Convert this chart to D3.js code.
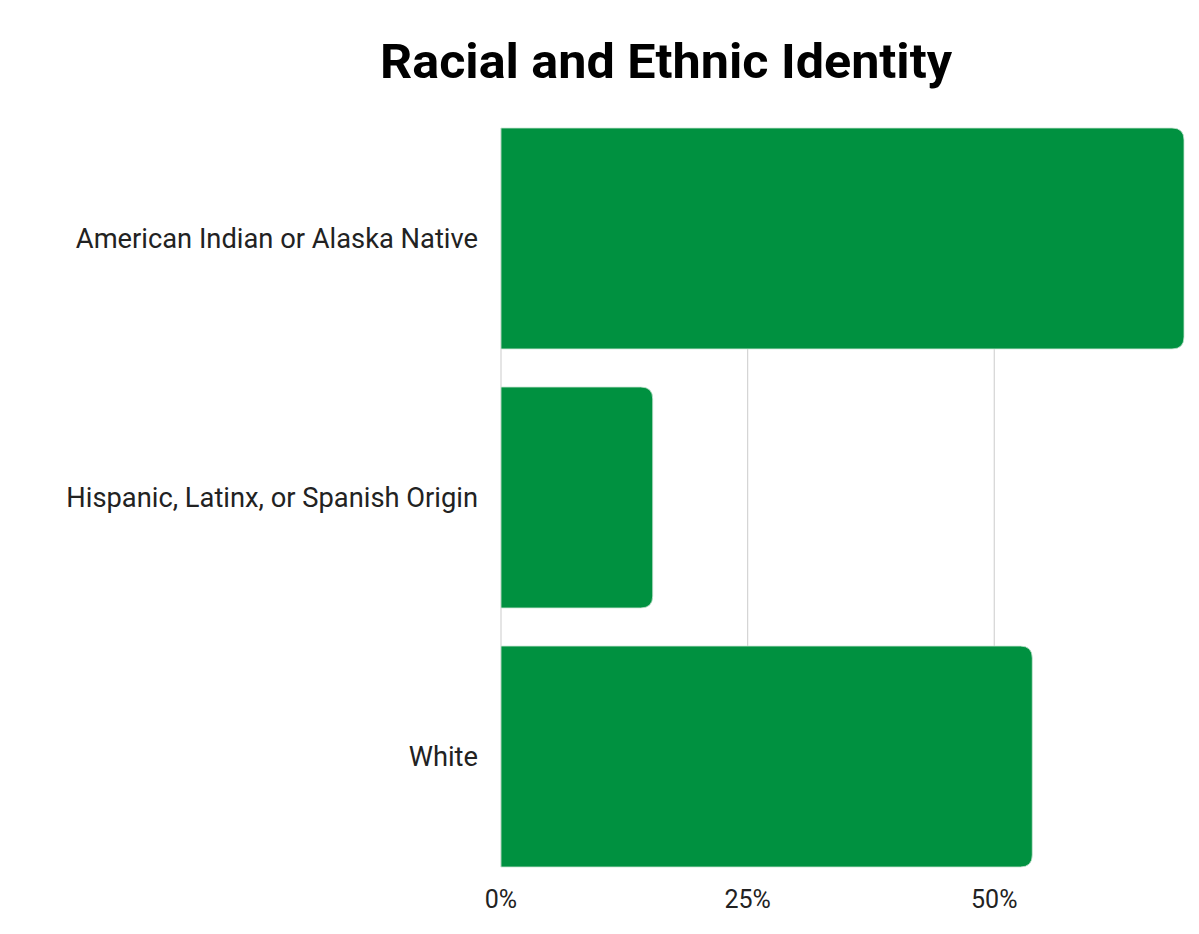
<!DOCTYPE html>
<html><head><meta charset="utf-8">
<script src="https://cdn.jsdelivr.net/npm/d3@7"></script>
<style>
html,body{margin:0;padding:0;background:#fff;}
svg{display:block;}
</style></head>
<body>
<svg id="chart" width="1199" height="934"></svg>
<script>
const categories = ["American Indian or Alaska Native", "Hispanic, Latinx, or Spanish Origin", "White"];
const values = [69.23, 15.38, 53.85];
const tickValues = [0, 25, 50];
const tickLabels = ["0%", "25%", "50%"];
const title = "Racial and Ethnic Identity";

const svg = d3.select("#chart");
const margin = {left: 501, right: 15, top: 128, bottom: 67};
const W = 1199, H = 934;
const x = d3.scaleLinear().domain([0, d3.max(values)]).range([margin.left, W - margin.right]);
const y = d3.scaleBand().domain(categories).range([margin.top, H - margin.bottom]).paddingInner(0.147).paddingOuter(0);

const font = "Roboto, 'Open Sans', sans-serif";

// gridlines
svg.append("g").selectAll("line").data(tickValues).join("line")
  .attr("x1", d => x(d)).attr("x2", d => x(d))
  .attr("y1", margin.top).attr("y2", H - margin.bottom)
  .attr("stroke", "#d4d4d4").attr("stroke-width", 1.2);

// bars with right rounded corners
const r = 12;
function barPath(d, i) {
  const x0 = x(0), x1 = x(d), y0 = y(categories[i]), h = y.bandwidth();
  const rr = Math.min(r, (x1 - x0) / 2, h / 2);
  return `M${x0},${y0}H${x1 - rr}Q${x1},${y0} ${x1},${y0 + rr}V${y0 + h - rr}Q${x1},${y0 + h} ${x1 - rr},${y0 + h}H${x0}Z`;
}
svg.append("g").selectAll("path").data(values).join("path")
  .attr("d", barPath)
  .attr("fill", "#009140")
  .attr("stroke", "#c9e6d3").attr("stroke-width", 0.8);

// category labels
svg.append("g").selectAll("text").data(categories).join("text")
  .attr("x", margin.left - 23)
  .attr("y", d => y(d) + y.bandwidth() / 2)
  .attr("dy", "0.35em")
  .attr("text-anchor", "end")
  .attr("font-family", font).attr("font-size", 27.3)
  .attr("fill", "#222")
  .text(d => d);

// x tick labels
svg.append("g").selectAll("text").data(tickValues).join("text")
  .attr("x", d => x(d))
  .attr("y", 908)
  .attr("text-anchor", "middle")
  .attr("font-family", font).attr("font-size", 25)
  .attr("fill", "#222")
  .text((d, i) => tickLabels[i]);

// title
svg.append("text")
  .attr("x", 666).attr("y", 78)
  .attr("text-anchor", "middle")
  .attr("font-family", font).attr("font-weight", "bold").attr("font-size", 48)
  .attr("textLength", 572).attr("lengthAdjust", "spacingAndGlyphs")
  .attr("fill", "#000")
  .text(title);
</script>
</body></html>
